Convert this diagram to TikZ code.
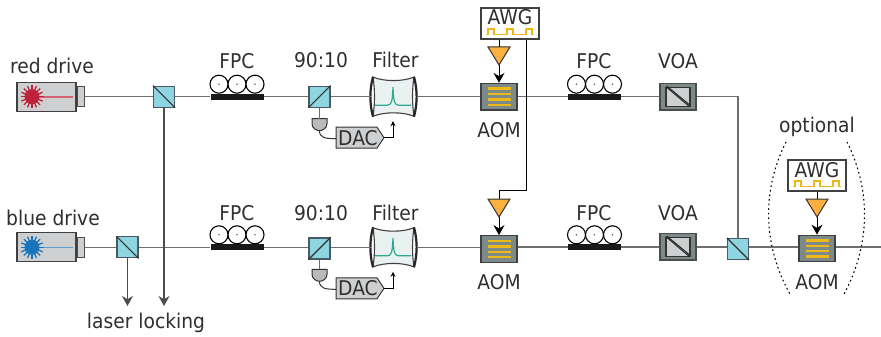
\documentclass[tikz,border=0pt]{standalone}
\usepackage{fontspec}
\setmainfont{DejaVu Sans}[FakeStretch=0.92]
\usetikzlibrary{arrows.meta,calc}
\definecolor{txt}{HTML}{2F2F2F}
\definecolor{fib}{HTML}{6B6F70}
\definecolor{bsblue}{HTML}{8ED5E2}
\definecolor{bsedge}{HTML}{4A5A62}
\definecolor{bodygray}{HTML}{CDCFD1}
\definecolor{aomgray}{HTML}{7D8A8A}
\definecolor{aomyel}{HTML}{EDB918}
\definecolor{tri}{HTML}{FBB040}
\definecolor{filt}{HTML}{EAF1F1}
\definecolor{teal}{HTML}{2FA98F}
\definecolor{lred}{HTML}{BE2139}
\definecolor{lblue}{HTML}{1B75BC}
\tikzset{
  lbl/.style={font=\fontsize{20.3}{20.3}\selectfont,text=txt,anchor=base,inner sep=0pt},
  fibre/.style={draw=fib,line width=1.3pt},
  bsbox/.style={draw=bsedge,fill=bsblue,line width=1.2pt,minimum width=21pt,minimum height=21pt,inner sep=0pt},
  aombox/.style={draw=black!75,fill=aomgray,line width=1.2pt,minimum width=36pt,minimum height=26.5pt,inner sep=0pt},
  voabox/.style={draw=black!70,fill=aomgray,line width=1.2pt,minimum width=36pt,minimum height=26.5pt,inner sep=0pt},
  awgbox/.style={draw=black!75,fill=white,line width=1.1pt,minimum width=58pt,minimum height=31pt,inner sep=0pt},
  yelbar/.style={draw=aomyel,line width=2.4pt},
  triang/.style={draw=black!80,fill=tri,line width=1pt,line join=miter},
  sig/.style={draw=black,line width=.9pt},
  bigarrow/.style={draw=black,line width=1pt,-{Stealth[length=10pt,width=11pt]}},
  grayarrow/.style={draw=black!70,line width=1.4pt,-{Stealth[length=10pt,width=11pt]}},
  smallarrow/.style={draw=black,line width=1pt,-{Stealth[length=5pt,width=5pt]}},
  mirror/.style={draw=black!85,line width=2.2pt},
  pulse/.style={draw=aomyel,line width=1.1pt},
  dotarc/.style={draw=black,line width=1.1pt,dash pattern=on 1.6pt off 3pt},
}
% name, y of beam, colour
\newcommand{\laserhead}[3]{
  \node[draw=black!75,fill=bodygray,line width=1.1pt,minimum width=59pt,minimum height=29pt,inner sep=0pt] (#1) at (46.5,#2) {};
  \node[draw=black!70,fill=bodygray,line width=1.1pt,minimum width=7pt,minimum height=20pt,inner sep=0pt,anchor=west] (#1n) at (#1.east) {};
  \draw[#3!70!white,line width=1.6pt] (32,#2) -- (73,#2);
  \foreach \a in {0,22.5,...,337.5} \draw[#3,line width=1.3pt] ($(32,#2)+(\a:3)$) -- ($(32,#2)+(\a:11.5)$);
  \fill[#3] (32,#2) circle (7.5);
}
% name, x, y: diagonal down-right
\newcommand{\bsdown}[3]{
  \node[bsbox] (#1) at (#2,#3) {};
  \draw[black!80,line width=1.1pt] (#1.north west) -- (#1.south east);
}
\newcommand{\bsup}[3]{
  \node[bsbox] (#1) at (#2,#3) {};
  \draw[black!80,line width=1.1pt] (#1.south west) -- (#1.north east);
}
% name, x centre of bar, y of beam
\newcommand{\fpc}[3]{
  \node[fill=black!90,minimum width=53pt,minimum height=6pt,inner sep=0pt] (#1) at (#2,#3) {};
  \foreach \d in {-18,0,18} {
    \draw[black,fill=white,line width=1.1pt] (#2+\d,#3-12.5) circle (9);
    \fill[black!60] (#2+\d,#3-12.5) circle (.9);
  }
}
% name, x centre, y centre
\newcommand{\aom}[3]{
  \node[aombox] (#1) at (#2,#3) {};
  \foreach \d in {-8,-2.7,2.7,8} \draw[yelbar] (#2-11.5,#3+\d) -- (#2+11.5,#3+\d);
}
\newcommand{\voa}[3]{
  \node[voabox] (#1) at (#2,#3) {};
  \draw[black!80,fill=bodygray,line width=1.1pt] (#2-12,#3-9.5) rectangle (#2+12,#3+9.5);
  \draw[black!85,line width=1pt] (#2-12,#3-10) -- (#2+11,#3+9.5);
  \draw[black!85,line width=1pt] (#2-11,#3-10.5) -- (#2+12,#3+8.5);
}
% name, x centre, y centre
\newcommand{\awg}[3]{
  \node[awgbox] (#1) at (#2,#3) {};
  \node[lbl] (#1t) at (#2,#3+1.5) {AWG};
  \draw[pulse] (#2-24,#3+11) -- ++(2,0) -- ++(0,-5.5) -- ++(6,0) -- ++(0,5.5) -- ++(13,0) -- ++(0,-5.5) -- ++(6,0) -- ++(0,5.5) -- ++(13,0) -- ++(0,-5.5) -- ++(6,0) -- ++(0,5.5) -- ++(2,0);
}
% name, x apex, y top
\newcommand{\amp}[3]{
  \draw[triang] (#2-11,#3) -- (#2+11,#3) -- (#2,#3+18) -- cycle;
  \coordinate (#1in) at (#2,#3);
  \coordinate (#1out) at (#2,#3+18);
}
% prefix, y of beam: filter, detector and DAC
\newcommand{\filterset}[2]{
  \draw[fill=filt,draw=black!75,line width=1.1pt] (373,#2-19.5) .. controls (385,#2-15) and (402,#2-15) .. (414,#2-19.5)
     .. controls (412,#2-7) and (412,#2+7) .. (414,#2+19.5)
     .. controls (402,#2+15) and (385,#2+15) .. (373,#2+19.5)
     .. controls (375,#2+7) and (375,#2-7) .. (373,#2-19.5) -- cycle;
  \draw[mirror] (373,#2-20) .. controls (369.5,#2-7) and (369.5,#2+7) .. (373,#2+20);
  \draw[mirror] (414,#2-20) .. controls (417.5,#2-7) and (417.5,#2+7) .. (414,#2+20);
  \coordinate (#1fl) at (370.5,#2);
  \coordinate (#1fr) at (416.5,#2);
  \coordinate (#1fb) at (393,#2+24.5);
  \draw[teal,line width=1.2pt] (375,#2+8.5) -- (387,#2+8.5) .. controls (391.5,#2+8.5) and (392.3,#2+6) .. (393,#2-9.5)
     .. controls (393.7,#2+6) and (394.5,#2+8.5) .. (399,#2+8.5) -- (411,#2+8.5);
  \draw[draw=black!80,fill=bodygray!90!black,line width=1pt] (312,#2+22) -- (327,#2+22) -- (327,#2+27) .. controls (327,#2+32) and (322,#2+34) .. (319.5,#2+34) .. controls (317,#2+34) and (312,#2+32) .. (312,#2+27) -- cycle;
  \coordinate (#1dt) at (319.5,#2+22);
  \coordinate (#1db) at (319.5,#2+34);
  \draw[draw=black!80,fill=bodygray,line width=1pt] (336,#2+30.5) -- (377,#2+30.5) -- (384,#2+41) -- (377,#2+51.5) -- (336,#2+51.5) -- cycle;
  \node[lbl] (#1dac) at (358,#2+48.5) {DAC};
  \coordinate (#1di) at (336,#2+42);
  \coordinate (#1do) at (384,#2+41);
  \draw[black!80,line width=1pt] (#1db) .. controls (319.5,#2+41) and (325,#2+42) .. (#1di);
  \draw[smallarrow] (#1do) -| (#1fb);
}
\begin{document}
\begin{tikzpicture}[x=1pt,y=-1pt]
\useasboundingbox (0,0) rectangle (881,337);
\fill[white] (0,0) rectangle (881,337);

% ---- components, red arm
\laserhead{lr}{96.7}{lred}
\bsdown{bsr}{164}{96.7}
\fpc{fr1}{237}{96.7}
\bsup{sr}{319.5}{96.7}
\filterset{r}{96.7}
\aom{ar}{499}{96.7}
\fpc{fr2}{594.5}{96.7}
\voa{vr}{678}{96.7}
\awg{wr}{510}{23.5}
\amp{tr}{499}{47}

% ---- components, blue arm
\laserhead{lb}{247.3}{lblue}
\bsdown{bsb}{127.5}{247.3}
\fpc{fb1}{237}{247.3}
\bsup{sb}{319.5}{248.5}
\filterset{b}{247.3}
\aom{ab}{499}{249}
\fpc{fb2}{594.5}{247.3}
\voa{vb}{678}{246.7}
\bsdown{bsc}{738}{249}
\aom{ac}{817}{248.5}
\awg{wc}{817}{175.5}
\amp{tc}{817}{199}
\amp{tb}{499}{199}
\coordinate (beam) at (0,247);
\coordinate (end) at (881,247);
\coordinate (lockA) at (127.5,306);
\coordinate (lockB) at (164,306);
\coordinate (awgturn) at (526,190);

% ---- fibre connectors
\draw[fibre] (lrn.east) -- (bsr.west);
\draw[fibre] (bsr.east) -- (fr1.west);
\draw[fibre] (fr1.east) -- (sr.west);
\draw[fibre] (sr.east) -- (rfl);
\draw[fibre] (rfr) -- (ar.west);
\draw[fibre] (ar.east) -- (fr2.west);
\draw[fibre] (fr2.east) -- (vr.west);
\draw[fibre] (vr.east) -| (bsc.north);
\draw[fibre] (lbn.east) -- (bsb.west);
\draw[fibre] (bsb.east) -- (fb1.west);
\draw[fibre] (fb1.east) -- (fb1.east -| sb.west);
\draw[fibre] (sb.east |- bfl) -- (bfl);
\draw[fibre] (bfr) -- (bfr -| ab.west);
\draw[fibre] (ab.east |- beam) -- (ab.east |- beam -| fb2.west);
\draw[fibre] (fb2.east |- beam) -- (vb.west |- beam);
\draw[fibre] (vb.east |- beam) -- (bsc.west |- beam);
\draw[fibre] (bsc.east |- beam) -- (ac.west |- beam);
\draw[fibre] (ac.east |- beam) -- (end);
\draw[grayarrow] (bsb.south) -- (lockA);
\draw[grayarrow] (bsr.south) -- (lockB);
\draw[fibre] (sr.south) -- (rdt);
\draw[fibre] (sb.south) -- (bdt);

% ---- signal connectors
\draw[sig] (wr.south -| trin) -- (trin);
\draw[bigarrow] (trout) -- (ar.north);
\draw[sig] (wr.south -| awgturn) -- (awgturn) -- (awgturn -| tbin) -- (tbin);
\draw[bigarrow] (tbout) -- (ab.north);
\draw[sig] (wc.south) -- (tcin);
\draw[bigarrow] (tcout) -- (ac.north);

% ---- optional region
\coordinate (oTL) at (786,142);
\coordinate (oBL) at (791,296);
\coordinate (oTR) at (847,142);
\coordinate (oBR) at (843,296);
\draw[dotarc] (oTL) .. controls (762,190) and (762,245) .. (oBL);
\draw[dotarc] (oTR) .. controls (871,190) and (871,245) .. (oBR);

% ---- labels
\node[lbl] (t1) at (52,74) {red drive};
\node[lbl] (t2) at (237,69) {FPC};
\node[lbl] (t3) at (321,68) {90:10};
\node[lbl] (t4) at (395.5,68) {Filter};
\node[lbl] (t5) at (499,137) {AOM};
\node[lbl] (t6) at (594,69) {FPC};
\node[lbl] (t7) at (678,69) {VOA};
\node[lbl] (t8) at (53,225) {blue drive};
\node[lbl] (t9) at (237,220) {FPC};
\node[lbl] (t10) at (321,220) {90:10};
\node[lbl] (t11) at (395.5,220) {Filter};
\node[lbl] (t12) at (499,289) {AOM};
\node[lbl] (t13) at (594,220) {FPC};
\node[lbl] (t14) at (678,220) {VOA};
\node[lbl] (t15) at (817,289) {AOM};
\node[lbl] (t16) at (817,132) {optional};
\node[lbl] (t17) at (146,328) {laser locking};
\end{tikzpicture}
\end{document}
